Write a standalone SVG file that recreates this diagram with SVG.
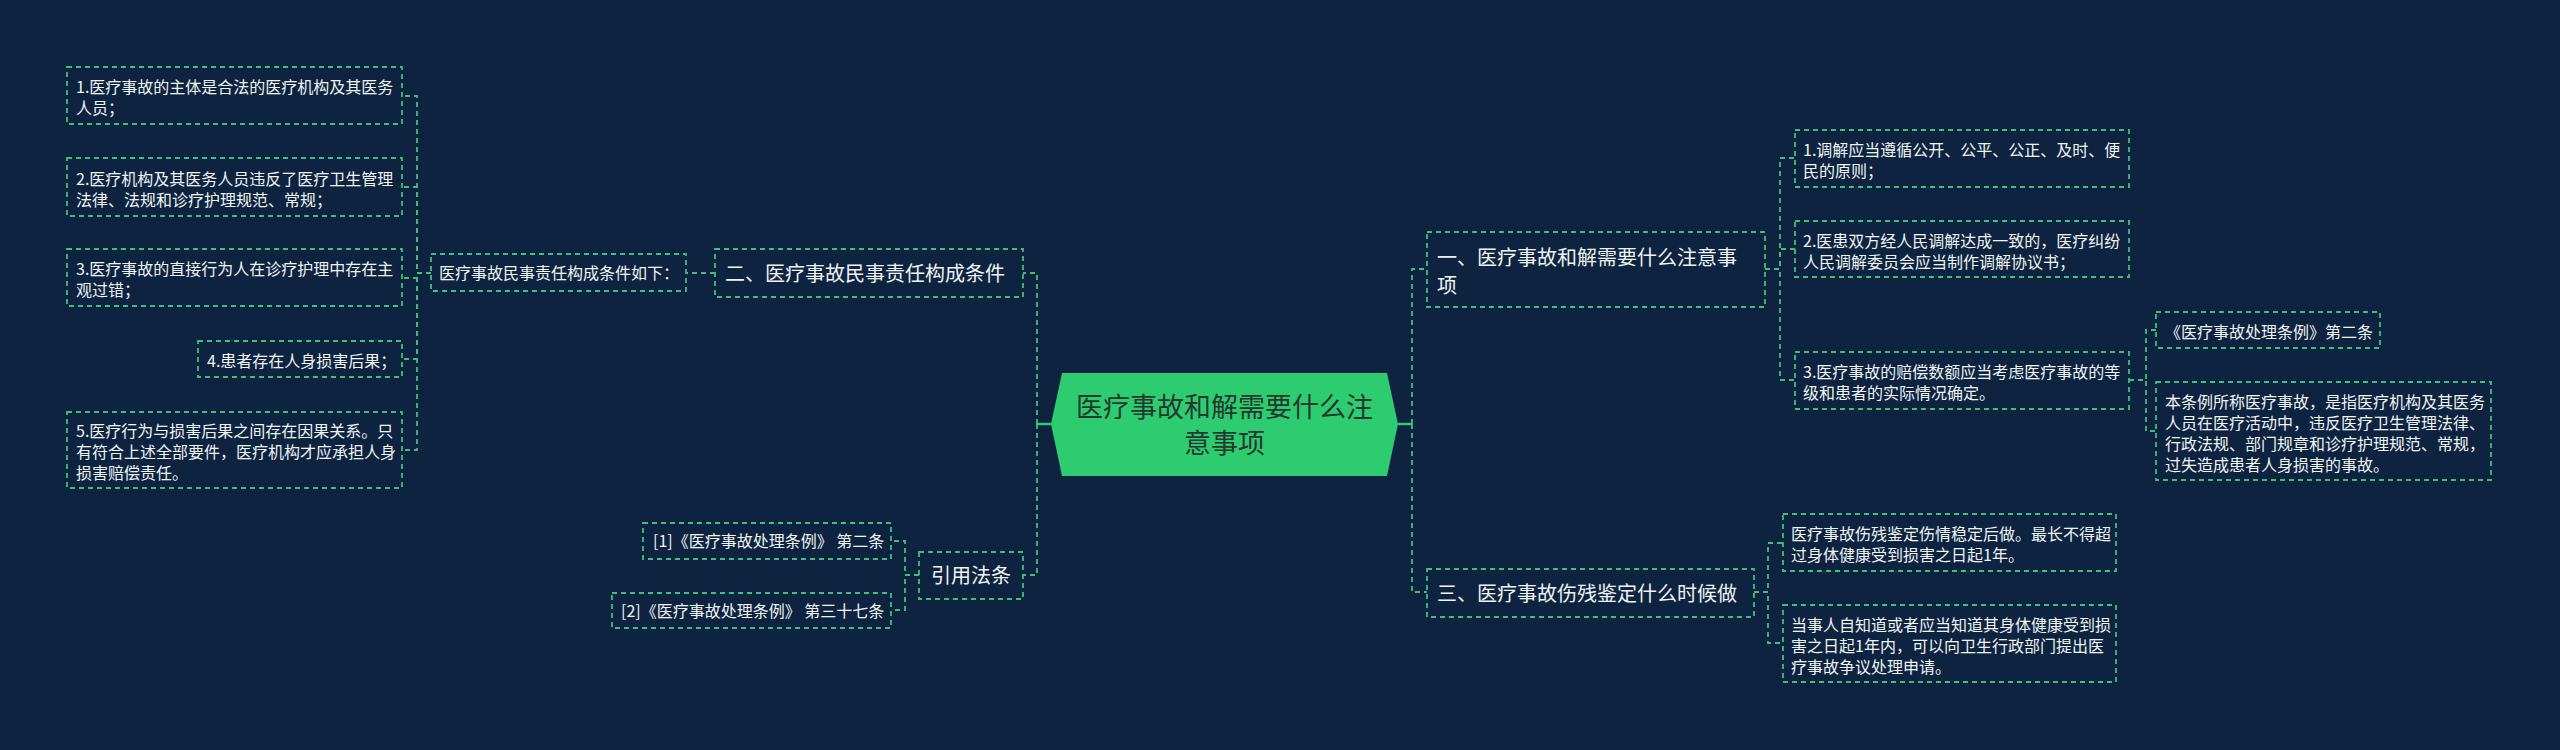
<svg xmlns="http://www.w3.org/2000/svg" width="2560" height="750" viewBox="0 0 2560 750">
<defs>
<style>
.bg{fill:#0e2340}
.box{fill:none;stroke:#40bf7c;stroke-width:1.8;stroke-dasharray:5 4}
.ln{fill:none;stroke:#40bf7c;stroke-width:1.8;stroke-dasharray:5 4}
.solid{fill:none;stroke:#2ecc71;stroke-width:2.5}
.t{font-family:"Noto Sans CJK SC","Noto Sans",sans-serif;fill:#eef3f3}
.s{font-size:16px}
.m{font-size:20px}
.c{font-size:27px;fill:#24392d;text-anchor:middle}
</style>
</defs>
<rect class="bg" x="0" y="0" width="2560" height="750"/>
<g id="connectors">
<path class="ln" d="M431 273H417V96H402"/>
<path class="ln" d="M431 273H417V187H402"/>
<path class="ln" d="M431 273H417V278H402"/>
<path class="ln" d="M431 273H417V359H402"/>
<path class="ln" d="M431 273H417V450H402"/>
<path class="ln" d="M715 273H686"/>
<path class="solid" d="M1051 424H1037"/>
<path class="ln" d="M1037 424V273H1023"/>
<path class="ln" d="M1037 424V575H1023"/>
<path class="solid" d="M1398 424H1412"/>
<path class="ln" d="M1412 424V269H1427"/>
<path class="ln" d="M1412 424V592H1427"/>
<path class="ln" d="M1765 269H1780V158H1795"/>
<path class="ln" d="M1765 269H1780V249H1795"/>
<path class="ln" d="M1765 269H1780V380H1795"/>
<path class="ln" d="M2129 380H2146V330H2156"/>
<path class="ln" d="M2129 380H2146V431H2156"/>
<path class="ln" d="M1754 592H1768V543H1783"/>
<path class="ln" d="M1754 592H1768V643H1783"/>
<path class="ln" d="M919 575H905V541H891"/>
<path class="ln" d="M919 575H905V610H891"/>
</g>
<g id="center">
<polygon points="1051,424 1062,373 1387,373 1398,424 1387,476 1062,476" fill="#2ecc71"/>
<text class="t c" x="1224.5" y="417">医疗事故和解需要什么注</text>
<text class="t c" x="1224.5" y="453">意事项</text>
</g>
<g id="n2">
<rect class="box" x="715" y="249" width="308" height="48"/>
<text class="t m" x="725" y="280.5">二、医疗事故民事责任构成条件</text>
</g>
<g id="n2sub">
<rect class="box" x="431" y="254" width="255" height="37"/>
<text class="t s" x="439" y="278.5">医疗事故民事责任构成条件如下：</text>
</g>
<g id="l1">
<rect class="box" x="67" y="67" width="335" height="57"/>
<text class="t s" x="76" y="93">1.医疗事故的主体是合法的医疗机构及其医务</text>
<text class="t s" x="76" y="114">人员；</text>
</g>
<g id="l2">
<rect class="box" x="67" y="158" width="335" height="58"/>
<text class="t s" x="76" y="184.5">2.医疗机构及其医务人员违反了医疗卫生管理</text>
<text class="t s" x="76" y="205.5">法律、法规和诊疗护理规范、常规；</text>
</g>
<g id="l3">
<rect class="box" x="67" y="249" width="335" height="57"/>
<text class="t s" x="76" y="275">3.医疗事故的直接行为人在诊疗护理中存在主</text>
<text class="t s" x="76" y="296">观过错；</text>
</g>
<g id="l4">
<rect class="box" x="198" y="341" width="204" height="36"/>
<text class="t s" x="207" y="367">4.患者存在人身损害后果；</text>
</g>
<g id="l5">
<rect class="box" x="67" y="412" width="335" height="76"/>
<text class="t s" x="76" y="437">5.医疗行为与损害后果之间存在因果关系。只</text>
<text class="t s" x="76" y="458">有符合上述全部要件，医疗机构才应承担人身</text>
<text class="t s" x="76" y="479">损害赔偿责任。</text>
</g>
<g id="ref">
<rect class="box" x="919" y="552" width="104" height="47"/>
<text class="t m" x="971" y="583" text-anchor="middle">引用法条</text>
</g>
<g id="ref1">
<rect class="box" x="643" y="523" width="248" height="36"/>
<text class="t s" x="653" y="547">[1]《医疗事故处理条例》 第二条</text>
</g>
<g id="ref2">
<rect class="box" x="612" y="593" width="279" height="35"/>
<text class="t s" x="621" y="616.5">[2]《医疗事故处理条例》 第三十七条</text>
</g>
<g id="n1">
<rect class="box" x="1427" y="232" width="338" height="75"/>
<text class="t m" x="1437" y="264.5">一、医疗事故和解需要什么注意事</text>
<text class="t m" x="1437" y="292.5">项</text>
</g>
<g id="r1">
<rect class="box" x="1795" y="130" width="334" height="57"/>
<text class="t s" x="1803" y="156">1.调解应当遵循公开、公平、公正、及时、便</text>
<text class="t s" x="1803" y="177">民的原则；</text>
</g>
<g id="r2">
<rect class="box" x="1795" y="221" width="334" height="56"/>
<text class="t s" x="1803" y="246.5">2.医患双方经人民调解达成一致的，医疗纠纷</text>
<text class="t s" x="1803" y="267.5">人民调解委员会应当制作调解协议书；</text>
</g>
<g id="r3">
<rect class="box" x="1795" y="352" width="334" height="57"/>
<text class="t s" x="1803" y="378">3.医疗事故的赔偿数额应当考虑医疗事故的等</text>
<text class="t s" x="1803" y="399">级和患者的实际情况确定。</text>
</g>
<g id="r3a">
<rect class="box" x="2156" y="312" width="224" height="36"/>
<text class="t s" x="2165" y="338">《医疗事故处理条例》第二条</text>
</g>
<g id="r3b">
<rect class="box" x="2156" y="382" width="335" height="98"/>
<text class="t s" x="2165" y="407.5">本条例所称医疗事故，是指医疗机构及其医务</text>
<text class="t s" x="2165" y="428.5">人员在医疗活动中，违反医疗卫生管理法律、</text>
<text class="t s" x="2165" y="449.5">行政法规、部门规章和诊疗护理规范、常规，</text>
<text class="t s" x="2165" y="470.5">过失造成患者人身损害的事故。</text>
</g>
<g id="n3">
<rect class="box" x="1427" y="569" width="327" height="48"/>
<text class="t m" x="1437" y="600.5">三、医疗事故伤残鉴定什么时候做</text>
</g>
<g id="r4">
<rect class="box" x="1783" y="514" width="333" height="57"/>
<text class="t s" x="1791" y="540">医疗事故伤残鉴定伤情稳定后做。最长不得超</text>
<text class="t s" x="1791" y="561">过身体健康受到损害之日起1年。</text>
</g>
<g id="r5">
<rect class="box" x="1783" y="605" width="333" height="77"/>
<text class="t s" x="1791" y="630.5">当事人自知道或者应当知道其身体健康受到损</text>
<text class="t s" x="1791" y="651.5">害之日起1年内，可以向卫生行政部门提出医</text>
<text class="t s" x="1791" y="672.5">疗事故争议处理申请。</text>
</g>
</svg>
